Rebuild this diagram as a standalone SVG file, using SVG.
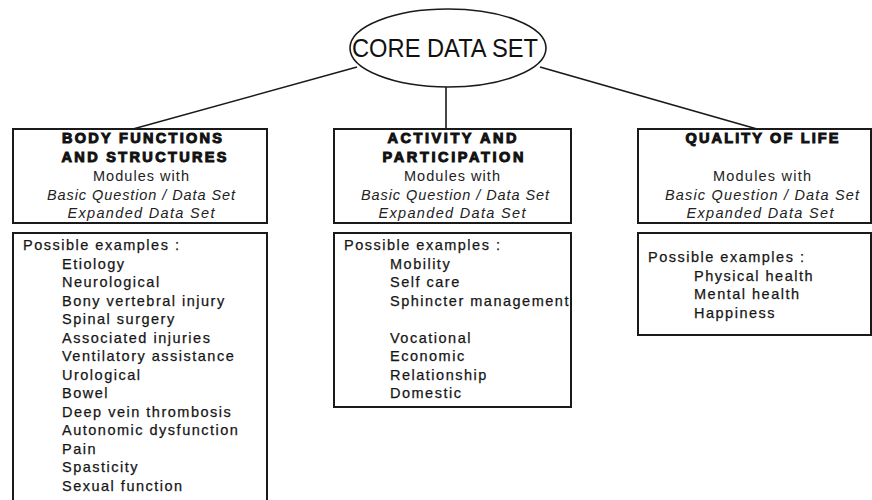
<svg xmlns="http://www.w3.org/2000/svg" width="872" height="500" viewBox="0 0 872 500">
<style>
.bg{fill:#ffffff}
.box{fill:#ffffff;stroke:#1a1a1a;stroke-width:2}
.conn{stroke:#1a1a1a;stroke-width:1.6;fill:none}
.hd{font-family:"Liberation Sans",Arial,sans-serif;font-size:14.5px;font-weight:bold;fill:#111;stroke:#111;stroke-width:1;text-anchor:middle}
.md{font-family:"Liberation Sans",Arial,sans-serif;font-size:14.5px;fill:#222;text-anchor:middle}
.it{font-family:"Liberation Sans",Arial,sans-serif;font-size:14.5px;font-style:italic;fill:#222;text-anchor:middle}
.ls{font-family:"Liberation Sans",Arial,sans-serif;font-size:14.5px;fill:#161616;stroke:#161616;stroke-width:0.25;letter-spacing:1.5px}
.core{font-family:"Liberation Sans",Arial,sans-serif;font-size:25px;fill:#111}
</style>
<rect class="bg" x="0" y="0" width="872" height="500"/>
<g id="connectors">
<line class="conn" x1="357" y1="67" x2="133" y2="129"/>
<line class="conn" x1="446" y1="87" x2="446" y2="129"/>
<line class="conn" x1="540" y1="67" x2="757" y2="129"/>
</g>
<g id="core">
<ellipse cx="448" cy="48" rx="98" ry="39" fill="#ffffff" stroke="#1a1a1a" stroke-width="1.6"/>
<text class="core" x="352" y="57" textLength="186" lengthAdjust="spacingAndGlyphs">CORE DATA SET</text>
</g>
<g id="body-functions">
<rect class="box" x="13" y="129" width="254" height="94"/>
<text class="hd" x="142" y="143" textLength="160">BODY FUNCTIONS</text>
<text class="hd" x="144" y="162" textLength="165">AND STRUCTURES</text>
<text class="md" x="141" y="181" textLength="96">Modules with</text>
<text class="it" x="141" y="200" textLength="188">Basic Question / Data Set</text>
<text class="it" x="141" y="218" textLength="147">Expanded Data Set</text>
</g>
<g id="activity">
<rect class="box" x="334" y="129" width="237" height="94"/>
<text class="hd" x="452" y="143" textLength="129">ACTIVITY AND</text>
<text class="hd" x="453" y="162" textLength="141">PARTICIPATION</text>
<text class="md" x="452" y="181" textLength="96">Modules with</text>
<text class="it" x="455" y="200" textLength="188">Basic Question / Data Set</text>
<text class="it" x="452" y="218" textLength="147">Expanded Data Set</text>
</g>
<g id="quality">
<rect class="box" x="638" y="129" width="233" height="94"/>
<text class="hd" x="762" y="143" textLength="153">QUALITY OF LIFE</text>
<text class="md" x="762" y="181" textLength="98">Modules with</text>
<text class="it" x="762" y="200" textLength="194">Basic Question / Data Set</text>
<text class="it" x="760" y="218" textLength="147">Expanded Data Set</text>
</g>
<g id="body-examples">
<rect class="box" x="13" y="233" width="254" height="280"/>
<text class="ls" x="23" y="250">Possible examples :</text>
<text class="ls" x="62" y="268.5">Etiology</text>
<text class="ls" x="62" y="287">Neurological</text>
<text class="ls" x="62" y="305.5">Bony vertebral injury</text>
<text class="ls" x="62" y="324">Spinal surgery</text>
<text class="ls" x="62" y="342.5">Associated injuries</text>
<text class="ls" x="62" y="361">Ventilatory assistance</text>
<text class="ls" x="62" y="379.5">Urological</text>
<text class="ls" x="62" y="398">Bowel</text>
<text class="ls" x="62" y="416.5">Deep vein thrombosis</text>
<text class="ls" x="62" y="435">Autonomic dysfunction</text>
<text class="ls" x="62" y="453.5">Pain</text>
<text class="ls" x="62" y="472">Spasticity</text>
<text class="ls" x="62" y="490.5">Sexual function</text>
</g>
<g id="activity-examples">
<rect class="box" x="334" y="233" width="237" height="174"/>
<text class="ls" x="344" y="250">Possible examples :</text>
<text class="ls" x="390" y="268.5">Mobility</text>
<text class="ls" x="390" y="287">Self care</text>
<text class="ls" x="390" y="305.5">Sphincter management</text>
<text class="ls" x="390" y="342.5">Vocational</text>
<text class="ls" x="390" y="361">Economic</text>
<text class="ls" x="390" y="379.5">Relationship</text>
<text class="ls" x="390" y="398">Domestic</text>
</g>
<g id="quality-examples">
<rect class="box" x="638" y="233" width="233" height="102"/>
<text class="ls" x="648" y="262">Possible examples :</text>
<text class="ls" x="694" y="280.5">Physical health</text>
<text class="ls" x="694" y="299">Mental health</text>
<text class="ls" x="694" y="317.5">Happiness</text>
</g>
</svg>
